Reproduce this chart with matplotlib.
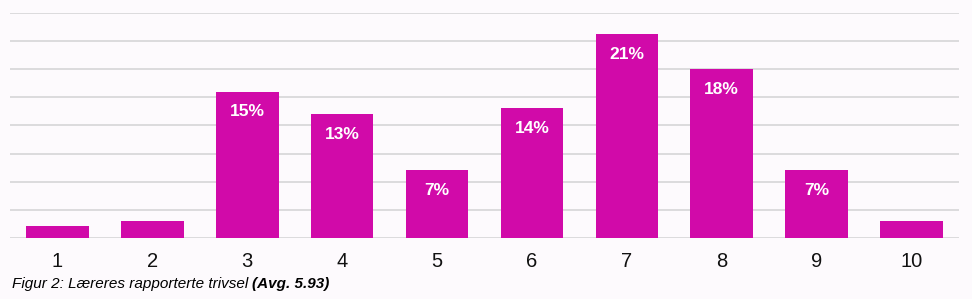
import numpy as np
import matplotlib
matplotlib.use('Agg')
from matplotlib import pyplot as plt

plt.rcParams['font.family'] = ['Liberation Sans', 'DejaVu Sans']

# Data
categories = ['1', '2', '3', '4', '5', '6', '7', '8', '9', '10']
values = [1.25, 1.8, 15.6, 13.2, 7.2, 13.8, 21.7, 18.0, 7.2, 1.8]
labels = ['', '', '15%', '13%', '7%', '14%', '21%', '18%', '7%', '']

bg = '#fdfafd'
bar_color = '#d10aa9'
grid_color = '#d9d8da'

fig = plt.figure(figsize=(9.72, 2.99), dpi=100, facecolor=bg)
ax = fig.add_axes([10 / 972, 1 - 238 / 299, 949 / 972, (238 - 12.7) / 299])
ax.set_facecolor(bg)

x = np.arange(len(categories))
ax.bar(x, values, width=0.66, color=bar_color, zorder=3)

# Gridlines
for g in np.arange(0, 25, 3):
    ax.axhline(g, color=grid_color, linewidth=1.3, zorder=1)

# Value labels inside bars
for xi, v, t in zip(x, values, labels):
    if t:
        ax.text(xi, v - 2.15, t, ha='center', va='center', color='white',
                fontsize=12.5, fontweight='bold', zorder=4)

ax.set_xlim(-0.5, len(categories) - 0.5)
ax.set_ylim(0, 24)
ax.set_xticks(x)
ax.set_xticklabels(categories, fontsize=14.5, color='#111111')
ax.tick_params(axis='x', length=0, pad=10)
ax.set_yticks([])
for s in ax.spines.values():
    s.set_visible(False)

# Caption: italic part + bold italic part
cy = 1 - 284 / 299
t1 = fig.text(12 / 972, cy, 'Figur 2: Læreres rapporterte trivsel ',
              fontsize=11, style='italic', va='center', ha='left', color='#000000')
renderer = fig.canvas.get_renderer()
bb = t1.get_window_extent(renderer=renderer)
fig.text(bb.x1 / fig.bbox.width, cy, '(Avg. 5.93)', fontsize=11,
         style='italic', fontweight='bold', va='center', ha='left', color='#000000')

fig.savefig('out.png', dpi=100, facecolor=bg)
